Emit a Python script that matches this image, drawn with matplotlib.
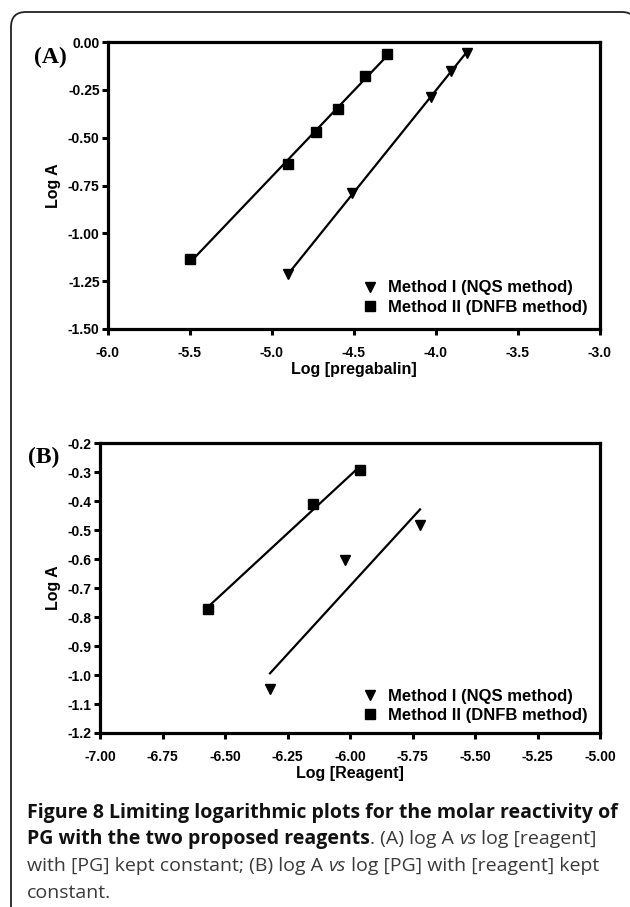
import numpy as np
import matplotlib
matplotlib.use('Agg')
import matplotlib.pyplot as plt
from matplotlib.path import Path
from matplotlib.patches import PathPatch

plt.rcParams['axes.unicode_minus'] = False
plt.rcParams['font.family'] = ['Liberation Sans', 'DejaVu Sans']

# panel A: log A vs log [pregabalin]
a_nqs_x = [-4.90, -4.51, -4.03, -3.91, -3.81]
a_nqs_y = [-1.215, -0.79, -0.285, -0.149, -0.058]
a_dnfb_x = [-5.50, -4.90, -4.73, -4.60, -4.43, -4.30]
a_dnfb_y = [-1.135, -0.64, -0.47, -0.35, -0.177, -0.061]
a_xticks = [-6.0, -5.5, -5.0, -4.5, -4.0, -3.5, -3.0]
a_yticks = [0.00, -0.25, -0.50, -0.75, -1.00, -1.25, -1.50]

# panel B: log A vs log [Reagent]
b_nqs_x = [-6.32, -6.02, -5.72]
b_nqs_y = [-1.048, -0.604, -0.483]
b_dnfb_x = [-6.57, -6.15, -5.96]
b_dnfb_y = [-0.773, -0.412, -0.294]
b_xticks = [-7.00, -6.75, -6.50, -6.25, -6.00, -5.75, -5.50, -5.25, -5.00]
b_yticks = [-0.2, -0.3, -0.4, -0.5, -0.6, -0.7, -0.8, -0.9, -1.0, -1.1, -1.2]

labels = ['Method I (NQS method)', 'Method II (DNFB method)']

W, H = 630, 907
fig = plt.figure(figsize=(6.3, 9.07), dpi=100)

# outer rounded frame, only left and top edges are visible
r = 15
pts_px = [(11, H + 5), (11, 12 + r), (11, 12), (11 + r, 12), (622, 12), (630, 12), (634, 17)]
codes = [Path.MOVETO, Path.LINETO, Path.CURVE3, Path.CURVE3, Path.LINETO, Path.CURVE3, Path.CURVE3]
pts = [(px / W, 1 - py / H) for px, py in pts_px]
fig.patches.append(PathPatch(Path(pts, codes), transform=fig.transFigure, fill=False,
                             edgecolor='#222222', linewidth=1.3))


def fit_line(ax, xs, ys):
    k, b = np.polyfit(xs, ys, 1)
    xx = np.array([min(xs), max(xs)])
    ax.plot(xx, k * xx + b, color='black', lw=1.6, zorder=2)


def style_axes(ax, xticks, yticks, xfmt, yfmt, xlabel):
    for s in ax.spines.values():
        s.set_linewidth(2.3)
    ax.set_xticks(xticks)
    ax.set_yticks(yticks)
    ax.set_xticklabels([xfmt.format(v) for v in xticks])
    ax.set_yticklabels([yfmt.format(v) for v in yticks])
    ax.tick_params(direction='out', length=4, width=2.2, labelsize=10)
    ax.tick_params(axis='x', pad=8)
    ax.tick_params(axis='y', pad=2)
    for t in ax.get_xticklabels() + ax.get_yticklabels():
        t.set_fontweight('bold')
    ax.set_xlabel(xlabel, fontsize=11.5, fontweight='bold', labelpad=2)
    ax.set_ylabel('Log A', fontsize=11.5, fontweight='bold', labelpad=5)


def add_legend(ax, anchor):
    ax.legend(loc='lower right', bbox_to_anchor=anchor, frameon=False,
              prop={'weight': 'bold', 'size': 12}, handletextpad=0.5,
              handlelength=1.2, borderaxespad=0, borderpad=0, labelspacing=0.25)


# ---- panel A
ax1 = fig.add_axes([108 / W, 1 - 329 / H, 492 / W, 287 / H])
fit_line(ax1, a_nqs_x, a_nqs_y)
fit_line(ax1, a_dnfb_x, a_dnfb_y)
ax1.plot(a_nqs_x, a_nqs_y, 'v', color='black', ms=6.5, label=labels[0], zorder=3)
ax1.plot(a_dnfb_x, a_dnfb_y, 's', color='black', ms=6.5, label=labels[1], zorder=3)
ax1.set_xlim(-6.0, -3.0)
ax1.set_ylim(-1.5, 0.0)
style_axes(ax1, a_xticks, a_yticks, '{:.1f}', '{:.2f}', 'Log [pregabalin]')
add_legend(ax1, (0.975, 0.05))
fig.text(34 / W, 1 - 57 / H, '(A)', family='Liberation Serif', fontweight='bold',
         fontsize=17, va='center', ha='left')

# ---- panel B
ax2 = fig.add_axes([100 / W, 1 - 733 / H, 500 / W, 290 / H])
fit_line(ax2, b_nqs_x, b_nqs_y)
fit_line(ax2, b_dnfb_x, b_dnfb_y)
ax2.plot(b_nqs_x, b_nqs_y, 'v', color='black', ms=6.5, label=labels[0], zorder=3)
ax2.plot(b_dnfb_x, b_dnfb_y, 's', color='black', ms=6.5, label=labels[1], zorder=3)
ax2.set_xlim(-7.0, -5.0)
ax2.set_ylim(-1.2, -0.2)
style_axes(ax2, b_xticks, b_yticks, '{:.2f}', '{:.1f}', 'Log [Reagent]')
add_legend(ax2, (0.975, 0.035))
fig.text(28 / W, 1 - 457 / H, '(B)', family='Liberation Serif', fontweight='bold',
         fontsize=17, va='center', ha='left')

# ---- caption, pieces with mixed styles
cap_lines = [
    [('Figure 8 Limiting logarithmic plots for the molar reactivity of', 'bold', 'normal')],
    [('PG with the two proposed reagents', 'bold', 'normal'), ('. (A) log A ', 'normal', 'normal'),
     ('vs', 'normal', 'italic'), (' log [reagent]', 'normal', 'normal')],
    [('with [PG] kept constant; (B) log A ', 'normal', 'normal'), ('vs', 'normal', 'italic'),
     (' log [PG] with [reagent] kept', 'normal', 'normal')],
    [('constant.', 'normal', 'normal')],
]
cap_y = [813, 839, 866, 893]

fig.canvas.draw()
renderer = fig.canvas.get_renderer()
for pieces, yy in zip(cap_lines, cap_y):
    x = 27
    for txt, wt, st in pieces:
        col = '#111111' if wt == 'bold' else '#3a3a3a'
        t = fig.text(x / W, 1 - yy / H, txt, family='Open Sans', fontweight=wt,
                     style=st, fontsize=14, color=col, va='center', ha='left')
        bb = t.get_window_extent(renderer=renderer)
        x += bb.width

fig.savefig('out.png', dpi=100)
